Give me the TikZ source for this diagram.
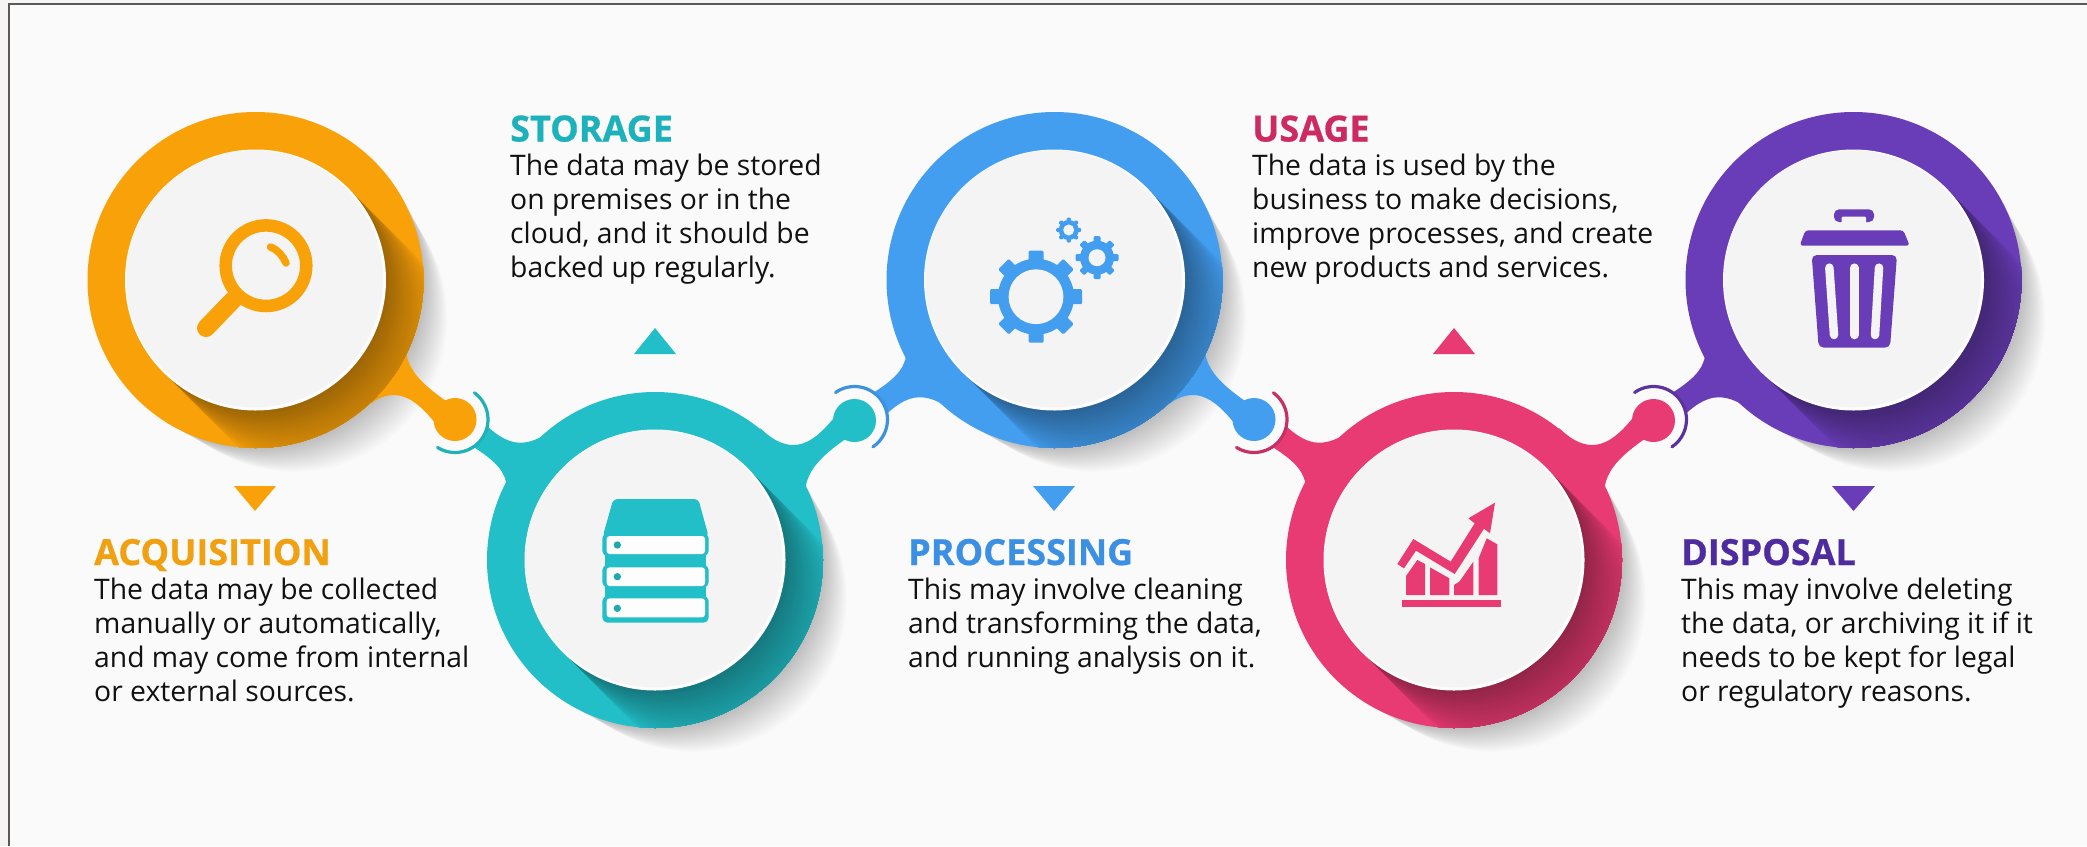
\documentclass[tikz,border=0pt]{standalone}
\usepackage{fontspec}
\setmainfont{Open Sans}[BoldFeatures={FakeBold=0.6}]
\definecolor{pagebg}{HTML}{F6F5F3}
\definecolor{panelbg}{HTML}{FAFAFA}
\definecolor{framec}{HTML}{5A5A5A}
\definecolor{diskc}{HTML}{F4F4F5}
\definecolor{rimc}{HTML}{FDFDFD}
\definecolor{ringO}{HTML}{F9A109}
\definecolor{ringT}{HTML}{22BFC8}
\definecolor{ringB}{HTML}{439EF0}
\definecolor{ringP}{HTML}{E83A73}
\definecolor{ringV}{HTML}{6A3DB8}
\definecolor{headO}{HTML}{F0A010}
\definecolor{headT}{HTML}{1DB2BB}
\definecolor{headB}{HTML}{3C90E4}
\definecolor{headP}{HTML}{CE2A62}
\definecolor{headV}{HTML}{4E2CA0}
\definecolor{bodyc}{HTML}{111111}
\tikzset{
  head/.style={anchor=base west,inner sep=0pt,font=\fontsize{36}{36}\selectfont\bfseries},
  body/.style={anchor=north west,inner sep=0pt,align=left,text=bodyc,font=\fontsize{28.3}{34}\selectfont},
  arcline/.style={line width=3.2pt,line cap=round},
}
% soft grey shadow cast on the page
\newcommand{\softshadow}[2]{%
  \foreach \i in {1,...,30}{%
    \fill[black,opacity=0.008] ({#1+\i*1.3},{#2+\i*1.3}) circle[radius={168-\i*0.5}];
  }}
% arm that runs towards the previous dot (#3 = 1 upper circle, -1 lower circle)
\newcommand{\leftarm}[4]{%
  \begin{scope}[shift={(#1,#2)},yscale=#3]
    \fill[#4] (-148,60) .. controls (-145,90) and (-160,100) .. (-196,122)
      -- (-180,146) .. controls (-150,114) and (-132,106) .. (-95,136) -- cycle;
  \end{scope}}
% arm and dot running to the next circle
\newcommand{\ownarm}[4]{%
  \begin{scope}[shift={(#1,#2)},yscale=#3]
    \fill[#4] (150,50) .. controls (147,82) and (156,97) .. (192,122)
      -- (182,146) .. controls (160,118) and (138,100) .. (105,132) -- cycle;
    \fill[#4] (199.5,139.5) circle[radius=21.5];
  \end{scope}}
% ring, swept shadow and white disk
\newcommand{\station}[3]{%
  \fill[#3] (#1,#2) circle[radius=168];
  \colorlet{dk}{#3!62!black}
  \begin{scope}
    \clip (#1,#2) circle[radius=168];
    \foreach \i in {40,39,...,1}{%
      \pgfmathtruncatemacro\p{100*((41-\i)/41)^1.4}
      \fill[dk!\p!#3] ({#1+\i*1.85},{#2+\i*1.85}) circle[radius=130];
    }
  \end{scope}
  \fill[rimc] (#1,#2) circle[radius=130.5];
  \fill[diskc] ({#1-1.2},{#2-1.2}) circle[radius=128.5];
}
% gear: centre x, centre y, tooth radius, body radius, hole radius, tooth width
\newcommand{\gearicon}[6]{%
  \begin{scope}[shift={(#1,#2)}]
    \foreach \a in {0,45,...,315}{%
      \fill[ringB,rotate=\a,rounded corners=1.2pt] ({-#6/2},0) rectangle ({#6/2},{#3});
    }
    \fill[ringB] (0,0) circle[radius=#4];
    \fill[diskc] (0,0) circle[radius=#5];
  \end{scope}}
\begin{document}
\begin{tikzpicture}[x=1pt,y=-1pt]
\useasboundingbox (0,0) rectangle (2087,846);
\fill[pagebg] (0,0) rectangle (2087,846);
\fill[panelbg] (8.7,4) rectangle (2087,846);
\draw[framec,line width=1.6pt] (8.7,846) -- (8.7,4) -- (2087,4);

% page shadows
\softshadow{255.5}{280}
\softshadow{655}{560}
\softshadow{1054.5}{280}
\softshadow{1454}{560}
\softshadow{1853.5}{280}

% arms reaching towards the previous dot
\leftarm{655}{560}{-1}{ringT}
\leftarm{1054.5}{280}{1}{ringB}
\leftarm{1454}{560}{-1}{ringP}
\leftarm{1853.5}{280}{1}{ringV}

% gaps and arcs around the dots
\coordinate (d1) at (455,419.5);
\coordinate (d2) at (854.5,419.5);
\coordinate (d3) at (1254,419.5);
\coordinate (d4) at (1653.5,419.5);
\foreach \d in {d1,d2,d3,d4}{\fill[panelbg] (\d) circle[radius=33];}
\draw[ringT!92!black,arcline] (d1) ++(-54:33) arc[start angle=-54,end angle=122,radius=33];
\draw[ringB!92!black,arcline] (d2) ++(-125:33) arc[start angle=-125,end angle=56,radius=33];
\draw[ringP!85!black,arcline] (d3) ++(-54:33) arc[start angle=-54,end angle=122,radius=33];
\draw[ringV!85!black,arcline] (d4) ++(-125:33) arc[start angle=-125,end angle=56,radius=33];

% rings
\ownarm{255.5}{280}{1}{ringO}
\ownarm{655}{560}{-1}{ringT}
\ownarm{1054.5}{280}{1}{ringB}
\ownarm{1454}{560}{-1}{ringP}
\station{255.5}{280}{ringO}
\station{655}{560}{ringT}
\station{1054.5}{280}{ringB}
\station{1454}{560}{ringP}
\station{1853.5}{280}{ringV}

% triangles
\fill[ringO] (234,486) -- (276,486) -- (255,511) -- cycle;
\fill[ringT] (634,354) -- (676,354) -- (655,328) -- cycle;
\fill[ringB] (1033,486) -- (1075,486) -- (1054,511) -- cycle;
\fill[ringP] (1433,354) -- (1475,354) -- (1454,328) -- cycle;
\fill[ringV] (1832,486) -- (1875,486) -- (1853.5,511) -- cycle;

% magnifier
\draw[ringO,line width=12.5pt] (266,265.7) circle[radius=40.3];
\draw[ringO,line width=18pt,line cap=round] (233,300) -- (206,328);
\draw[ringO,line width=7.5pt,line cap=round] (270.5,247) .. controls (278,250) and (283,256) .. (286,263);

% server stack
\begin{scope}[shift={(580,480)},scale=1/3]
  \fill[ringT,rounded corners=4pt] (100,57) -- (355,57) -- (386,170) -- (68,170) -- cycle;
  \fill[ringT] (76,200) rectangle (378,380);
  \foreach \ya/\yb in {160/228,255/322,348/428}{%
    \fill[ringT,rounded corners=5pt] (67,\ya) rectangle (386,\yb);
  }
  \foreach \ya/\yb in {168/222,262/318,355/412}{%
    \fill[rimc,rounded corners=3pt] (80,\ya) rectangle (375,\yb);
  }
  \foreach \yy in {195,290,385}{%
    \fill[ringT!88!black] (112,\yy) circle[radius=11];
  }
\end{scope}

% gears
\gearicon{1036}{296.7}{46}{38}{27.4}{15}
\gearicon{1097}{257.7}{21.5}{17}{8.5}{7}
\gearicon{1068.7}{230}{12.5}{10}{5.5}{4.2}

% chart
\begin{scope}[shift={(1380,490)},scale=1/3]
  \fill[ringP] (65,330) rectangle (362,352);
  \fill[ringP] (78,315) -- (78,258) -- (112,210) -- (135,222) -- (135,315) -- cycle;
  \fill[ringP] (150,315) -- (150,232) -- (208,265) -- (208,315) -- cycle;
  \fill[ringP] (222,315) -- (222,285) -- (238,275) -- (280,215) -- (280,315) -- cycle;
  \fill[ringP] (296,315) -- (296,205) -- (320,145) -- (352,163) -- (352,315) -- cycle;
  \fill[ringP] (52,222) -- (100,147) -- (212,215) -- (284,100) -- (265,85) -- (345,38) -- (330,130) -- (312,116) -- (224,252) -- (108,182) -- (72,235) -- cycle;
\end{scope}

% trash can
\begin{scope}[shift={(1780,200)},scale=1/3]
  \fill[ringV,rounded corners=5pt] (162,66) -- (162,28) -- (282,28) -- (282,66) -- cycle;
  \fill[diskc,rounded corners=1pt] (185,50) rectangle (258,70);
  \fill[ringV,rounded corners=3pt] (76,91) -- (370,91) -- (389,137) -- (59,137) -- cycle;
  \fill[ringV,rounded corners=5pt] (95,165) -- (351,165) -- (330,443) -- (116,443) -- cycle;
  \draw[diskc,line width=8.5pt,line cap=round] (148,203) -- (162,405);
  \draw[diskc,line width=8.5pt,line cap=round] (223,203) -- (223,405);
  \draw[diskc,line width=8.5pt,line cap=round] (297,203) -- (285,405);
\end{scope}

% text
\node[head,text=headT] (storageh) at (510,141.5) {STORAGE};
\node[body] (storageb) at (510,154) {The data may be stored\\on premises or in the\\cloud, and it should be\\backed up regularly.};
\node[head,text=headP] (usageh) at (1252,141.5) {USAGE};
\node[body] (usageb) at (1252,154) {The data is used by the\\business to make decisions,\\improve processes, and create\\new products and services.};
\node[head,text=headO] (acqh) at (94,565) {ACQUISITION};
\node[body] (acqb) at (94,578) {The data may be collected\\manually or automatically,\\and may come from internal\\or external sources.};
\node[head,text=headB] (proch) at (908,565) {PROCESSING};
\node[body] (procb) at (908,578) {This may involve cleaning\\and transforming the data,\\and running analysis on it.};
\node[head,text=headV] (disph) at (1681,565) {DISPOSAL};
\node[body] (dispb) at (1681,578) {This may involve deleting\\the data, or archiving it if it\\needs to be kept for legal\\or regulatory reasons.};
\end{tikzpicture}
\end{document}
